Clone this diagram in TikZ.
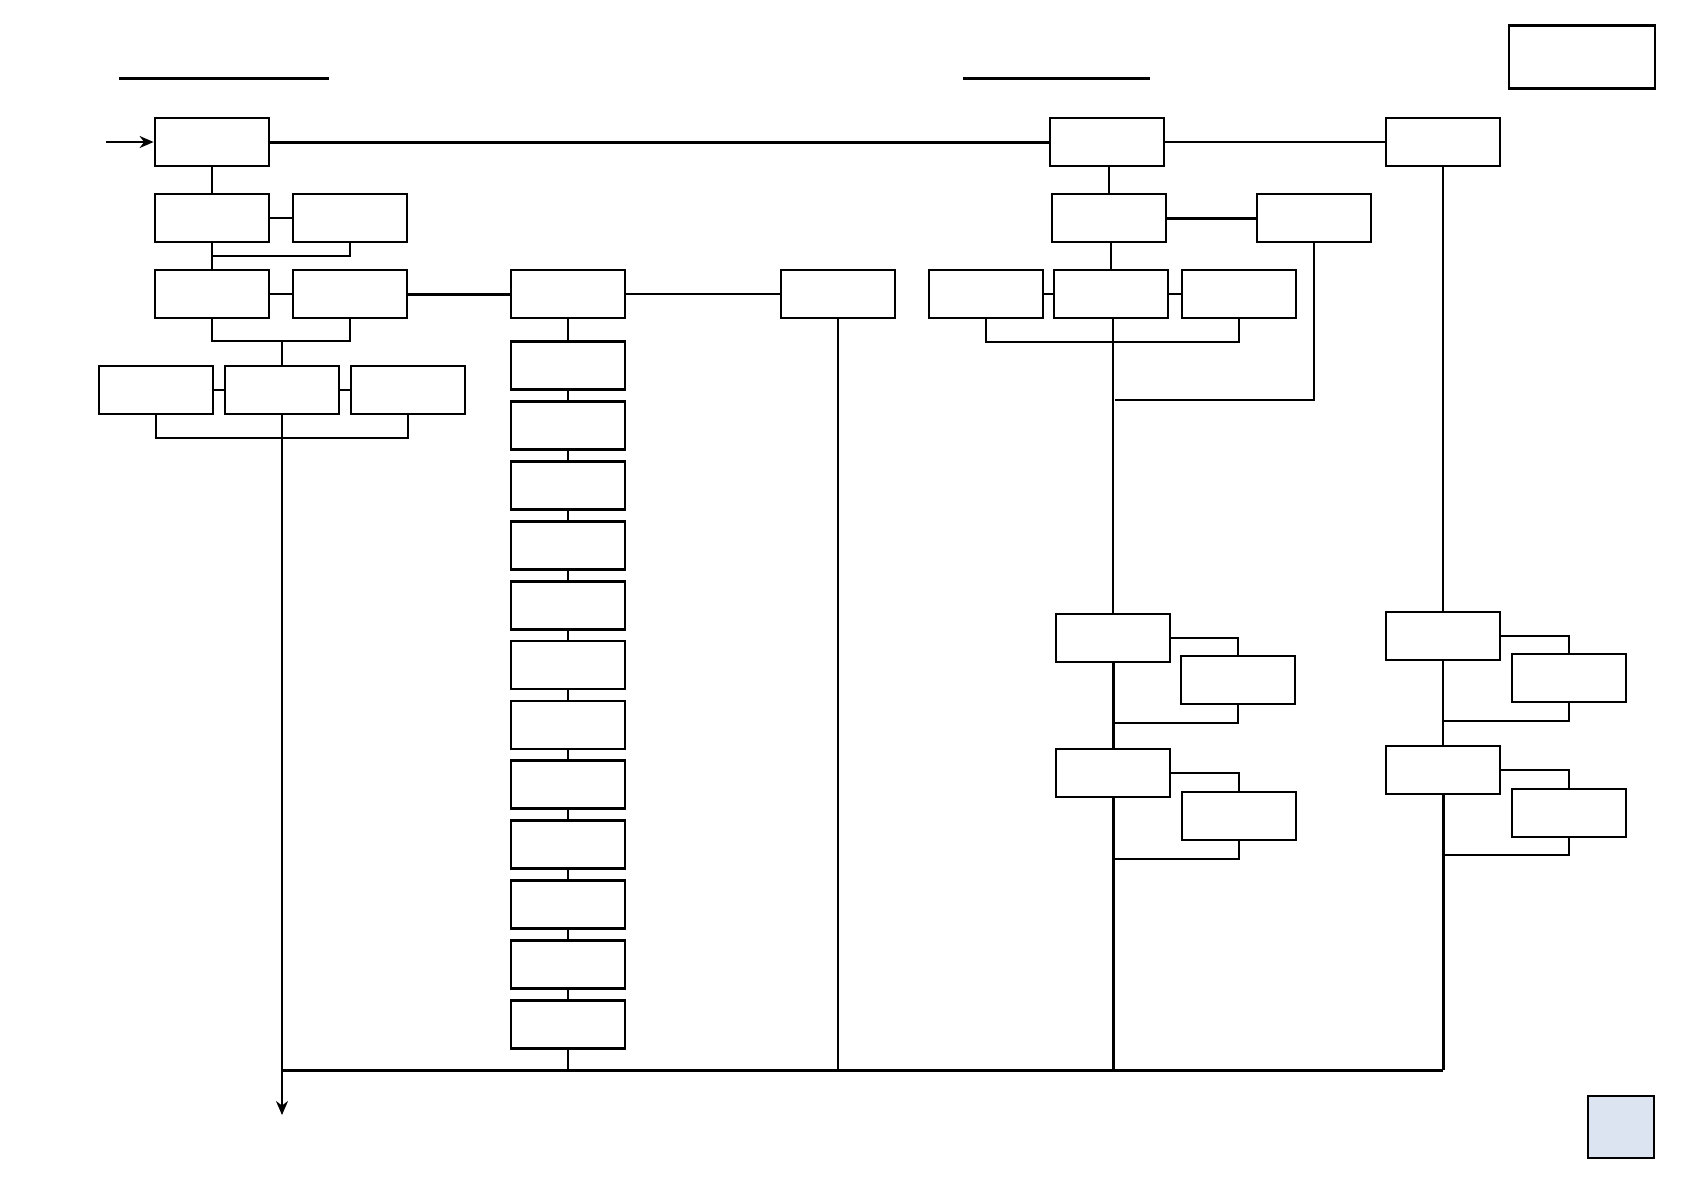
\documentclass[tikz,border=0pt]{standalone}
\usepackage{xcolor}
\usepackage{tikz}
\usetikzlibrary{arrows.meta}
\definecolor{paleblue}{RGB}{221,228,241}

\begin{document}
\begin{tikzpicture}[x=0.5pt,y=-0.5pt,
                    box/.style={draw,line width=1.4pt,minimum width=57pt,minimum height=24pt,inner sep=0pt},
                    link/.style={line width=1pt},
                    heavy/.style={line width=1.5pt},
                    >={Stealth[length=7pt,width=6pt]}]
\useasboundingbox (0,0) rectangle (1684,1191);
% headings
\draw[heavy] (119,78) -- (329,78);
\draw[heavy] (963,78) -- (1150,78);
\node[draw,line width=1.4pt,minimum width=73pt,minimum height=31.5pt] (tag) at (1582,57) {};
\node[draw,line width=1pt,fill=paleblue,minimum width=33pt,minimum height=31pt] (page) at (1621,1127) {};
% left branch
\node[box] (start) at (212,142) {};
\node[box] (b1)    at (212,218) {};
\node[box] (b2)    at (350,218) {};
\node[box] (c1)    at (212,294) {};
\node[box] (c2)    at (350,294) {};
\node[box] (e1)    at (156,390) {};
\node[box] (e2)    at (282,390) {};
\node[box] (e3)    at (408,390) {};
% middle column
\node[box] (d)     at (568,294) {};
\node[box] (f)     at (838,294) {};
\foreach \i in {1,...,12}
  \node[box] (d\i) at (568,{365.5+59.9*(\i-1)}) {};
% right branch
\node[box] (g)     at (1107,142) {};
\node[box] (h)     at (1443,142) {};
\node[box] (i)     at (1109,218) {};
\node[box] (j)     at (1314,218) {};
\node[box] (k1)    at (986,294) {};
\node[box] (k2)    at (1111,294) {};
\node[box] (k3)    at (1239,294) {};
\node[box] (l1)    at (1113,638) {};
\node[box] (m1)    at (1238,680) {};
\node[box] (l2)    at (1113,773) {};
\node[box] (m2)    at (1239,816) {};
\node[box] (n1)    at (1443,636) {};
\node[box] (o1)    at (1569,678) {};
\node[box] (n2)    at (1443,770) {};
\node[box] (o2)    at (1569,813) {};
\coordinate (in)   at (106,142);
\coordinate (out)  at (282,1115);
\coordinate (busL) at (282,1070);
\coordinate (busR) at (1443,1070);
\coordinate (jt)   at (1115,400);
% connectors, left
\draw[->,link] (in) -- (start);
\draw[heavy] (start) -- (g);
\draw[link] (g) -- (h);
\draw[link] (start) -- (b1);
\draw[link] (b1) -- (b2);
\draw[link] (b1) -- (c1);
\draw[link] (b2.south) -- ++(0,13) -| (b1.south);
\draw[link] (c1) -- (c2);
\draw[heavy] (c2) -- (d);
\draw[link] (c2.south) -- ++(0,22) coordinate (cjoin) -| (c1.south);
\draw[link] (e2.north) -- (e2.north |- cjoin);
\draw[link] (e1) -- (e2);
\draw[link] (e2) -- (e3);
\draw[link] (e1.south) -- ++(0,23) -| (e3.south);
\draw[->,link] (e2.south) -- (out);
\draw[heavy] (busL) -- (busR);
% connectors, middle
\draw[link] (d) -- (f);
\draw[link] (d) -- (d1);
\foreach \i [evaluate=\i as \k using int(\i+1)] in {1,...,11}
  \draw[link] (d\i) -- (d\k);
\draw[link] (d12.south) -- (d12.south |- busL);
\draw[link] (f.south) -- (f.south |- busL);
% connectors, right
\draw[link] (i.north) -- (i.north |- g.south);
\draw[heavy] (i) -- (j);
\draw[link] (k2.north) -- (k2.north |- i.south);
\draw[link] (k1) -- (k2);
\draw[link] (k2) -- (k3);
\draw[link] (k1.south) -- ++(0,23) -| (k3.south);
\draw[link] (l1.north) -- (l1.north |- k2.south);
\draw[link] (j.south) |- (jt);
\draw[link] (l1.east) -| (m1.north);
\draw[link] (m1.south) -- ++(0,18) -| (l1.south);
\draw[heavy] (l1) -- (l2);
\draw[link] (l2.east) -| (m2.north);
\draw[link] (m2.south) -- ++(0,18) -| (l2.south);
\draw[heavy] (l2.south) -- (l2.south |- busL);
\draw[link] (h) -- (n1);
\draw[link] (n1.east) -| (o1.north);
\draw[link] (o1.south) -- ++(0,18) -| (n1.south);
\draw[link] (n1) -- (n2);
\draw[link] (n2.east) -| (o2.north);
\draw[link] (o2.south) -- ++(0,17) -| (n2.south);
\draw[heavy] (n2.south) -- (busR);
\end{tikzpicture}
\end{document}
